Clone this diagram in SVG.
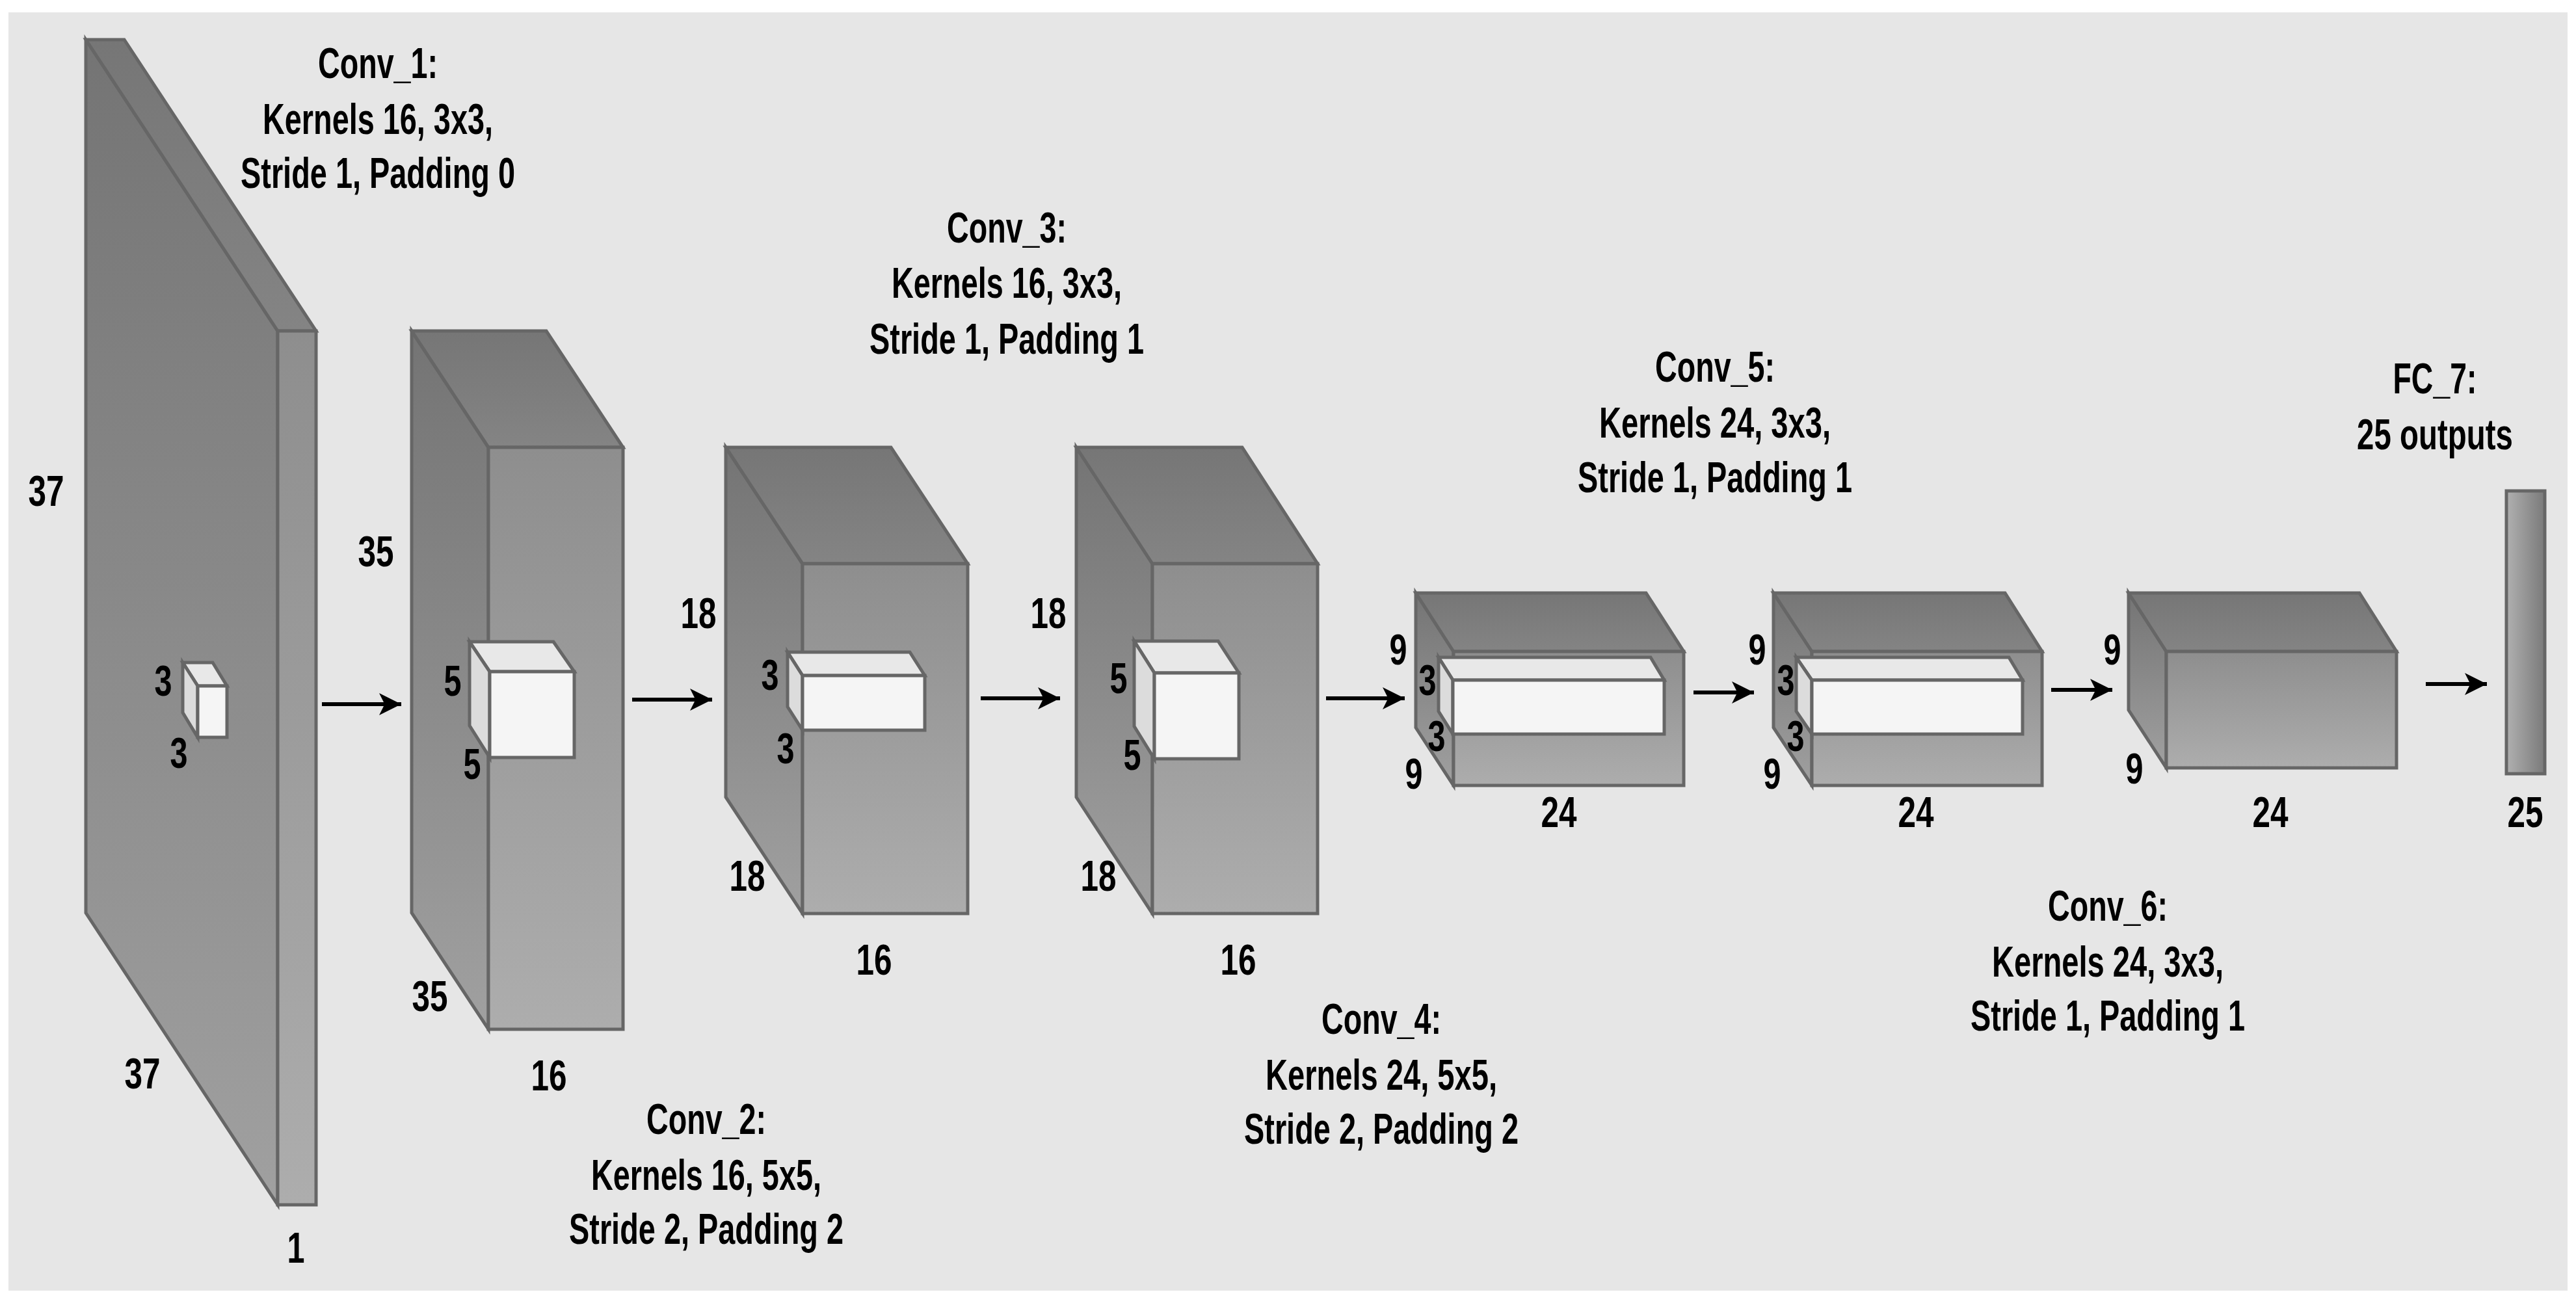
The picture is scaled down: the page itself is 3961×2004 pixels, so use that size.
<svg xmlns="http://www.w3.org/2000/svg" width="3961" height="2004" viewBox="0 0 3961 2004">
<defs>
<linearGradient id="gl" x1="0" y1="0" x2="0" y2="1"><stop offset="0" stop-color="#747474"/><stop offset="1" stop-color="#a0a0a0"/></linearGradient>
<linearGradient id="gf" x1="0" y1="0" x2="0" y2="1"><stop offset="0" stop-color="#8e8e8e"/><stop offset="1" stop-color="#adadad"/></linearGradient>
<linearGradient id="gt" x1="0" y1="0" x2="0" y2="1"><stop offset="0" stop-color="#767676"/><stop offset="1" stop-color="#848484"/></linearGradient>
<linearGradient id="gfc" x1="0" y1="0" x2="1" y2="0"><stop offset="0" stop-color="#b0b0b0"/><stop offset="1" stop-color="#7a7a7a"/></linearGradient>
<marker id="ah" viewBox="0 0 10 10" refX="10" refY="5" markerWidth="6" markerHeight="6" markerUnits="userSpaceOnUse" orient="auto">
<path d="M0,0 L10,5 L0,10 L3,5 Z" fill="#000"/></marker>
<marker id="arr" viewBox="0 0 20 20" refX="20" refY="10" markerWidth="34" markerHeight="34" markerUnits="userSpaceOnUse" orient="auto"><path d="M0,0 L20,10 L0,20 L5,10 Z" fill="#000"/></marker>
</defs>
<style>
.f{stroke:#666;stroke-width:5;stroke-linejoin:miter}
.l{fill:url(#gl)}.fr{fill:url(#gf)}.t{fill:url(#gt)}
.wt{fill:#e8e8e8}.wl{fill:#dcdcdc}.wf{fill:#f5f5f5}
text{font-family:"Liberation Sans Narrow","Liberation Sans",sans-serif;font-weight:bold;font-size:66px;fill:#000;text-anchor:middle}
.c{stroke:#000;stroke-width:6;fill:none}
</style>
<rect x="13" y="19" width="3935" height="1966" fill="#e6e6e6"/>

<g id="input">
<polygon class="f l" points="132,61 427,509 427,1853 132,1404"/>
<polygon class="f t" points="132,61 191,61 486,509 427,509"/>
<rect class="f fr" x="427" y="509" width="59" height="1344"/>
<polygon class="f wt" points="281,1019 327,1019 349,1055 304,1055"/>
<polygon class="f wl" points="281,1019 304,1055 304,1134 281,1096"/>
<rect class="f wf" x="304" y="1055" width="45" height="79"/>
<text x="71" y="778" textLength="55" lengthAdjust="spacingAndGlyphs">37</text>
<text x="251" y="1070" textLength="27" lengthAdjust="spacingAndGlyphs">3</text>
<text x="275" y="1181" textLength="27" lengthAdjust="spacingAndGlyphs">3</text>
<text x="219" y="1674" textLength="55" lengthAdjust="spacingAndGlyphs">37</text>
<text x="455" y="1942" textLength="27" lengthAdjust="spacingAndGlyphs">1</text>
</g>

<g id="conv1">
<polygon class="f l" points="633,509 751,688 751,1583 633,1404"/>
<polygon class="f t" points="633,509 840,509 958,688 751,688"/>
<rect class="f fr" x="751" y="688" width="207" height="895"/>
<polygon class="f wt" points="722,987 851,987 883,1033 753,1033"/>
<polygon class="f wl" points="722,987 753,1033 753,1165 722,1116"/>
<rect class="f wf" x="753" y="1033" width="130" height="132"/>
<text x="578" y="871" textLength="55" lengthAdjust="spacingAndGlyphs">35</text>
<text x="696" y="1070" textLength="27" lengthAdjust="spacingAndGlyphs">5</text>
<text x="726" y="1198" textLength="27" lengthAdjust="spacingAndGlyphs">5</text>
<text x="661" y="1555" textLength="55" lengthAdjust="spacingAndGlyphs">35</text>
<text x="844" y="1677" textLength="55" lengthAdjust="spacingAndGlyphs">16</text>
</g>

<g id="conv2">
<polygon class="f l" points="1116,688 1234,867 1234,1405 1116,1226"/>
<polygon class="f t" points="1116,688 1370,688 1488,867 1234,867"/>
<rect class="f fr" x="1234" y="867" width="254" height="538"/>
<polygon class="f wt" points="1211,1003 1399,1003 1422,1039 1234,1039"/>
<polygon class="f wl" points="1211,1003 1234,1039 1234,1123 1211,1087"/>
<rect class="f wf" x="1234" y="1039" width="188" height="84"/>
<text x="1074" y="966" textLength="55" lengthAdjust="spacingAndGlyphs">18</text>
<text x="1184" y="1061" textLength="27" lengthAdjust="spacingAndGlyphs">3</text>
<text x="1208" y="1174" textLength="27" lengthAdjust="spacingAndGlyphs">3</text>
<text x="1149" y="1370" textLength="55" lengthAdjust="spacingAndGlyphs">18</text>
<text x="1344" y="1499" textLength="55" lengthAdjust="spacingAndGlyphs">16</text>
</g>

<g id="conv3">
<polygon class="f l" points="1655,688 1772,867 1772,1405 1655,1226"/>
<polygon class="f t" points="1655,688 1910,688 2026,867 1772,867"/>
<rect class="f fr" x="1772" y="867" width="254" height="538"/>
<polygon class="f wt" points="1744,986 1873,986 1905,1035 1775,1035"/>
<polygon class="f wl" points="1744,986 1775,1035 1775,1167 1744,1117"/>
<rect class="f wf" x="1775" y="1035" width="130" height="132"/>
<text x="1612" y="966" textLength="55" lengthAdjust="spacingAndGlyphs">18</text>
<text x="1720" y="1066" textLength="27" lengthAdjust="spacingAndGlyphs">5</text>
<text x="1741" y="1184" textLength="27" lengthAdjust="spacingAndGlyphs">5</text>
<text x="1689" y="1370" textLength="55" lengthAdjust="spacingAndGlyphs">18</text>
<text x="1904" y="1499" textLength="55" lengthAdjust="spacingAndGlyphs">16</text>
</g>

<g id="conv4">
<polygon class="f l" points="2177,912 2235,1002 2235,1208 2177,1119"/>
<polygon class="f t" points="2177,912 2531,912 2589,1002 2235,1002"/>
<rect class="f fr" x="2235" y="1002" width="354" height="206"/>
<polygon class="f wt" points="2212,1011 2538,1011 2559,1046 2234,1046"/>
<polygon class="f wl" points="2212,1011 2234,1046 2234,1129 2212,1094"/>
<rect class="f wf" x="2234" y="1046" width="325" height="83"/>
<text x="2150" y="1022" textLength="27" lengthAdjust="spacingAndGlyphs">9</text>
<text x="2195" y="1069" textLength="27" lengthAdjust="spacingAndGlyphs">3</text>
<text x="2209" y="1155" textLength="27" lengthAdjust="spacingAndGlyphs">3</text>
<text x="2174" y="1213" textLength="27" lengthAdjust="spacingAndGlyphs">9</text>
<text x="2397" y="1272" textLength="55" lengthAdjust="spacingAndGlyphs">24</text>
</g>

<g id="conv5">
<polygon class="f l" points="2727,912 2786,1002 2786,1208 2727,1119"/>
<polygon class="f t" points="2727,912 3083,912 3140,1002 2786,1002"/>
<rect class="f fr" x="2786" y="1002" width="354" height="206"/>
<polygon class="f wt" points="2762,1011 3089,1011 3110,1046 2786,1046"/>
<polygon class="f wl" points="2762,1011 2786,1046 2786,1129 2762,1094"/>
<rect class="f wf" x="2786" y="1046" width="324" height="83"/>
<text x="2702" y="1022" textLength="27" lengthAdjust="spacingAndGlyphs">9</text>
<text x="2746" y="1069" textLength="27" lengthAdjust="spacingAndGlyphs">3</text>
<text x="2761" y="1155" textLength="27" lengthAdjust="spacingAndGlyphs">3</text>
<text x="2725" y="1213" textLength="27" lengthAdjust="spacingAndGlyphs">9</text>
<text x="2946" y="1272" textLength="55" lengthAdjust="spacingAndGlyphs">24</text>
</g>

<g id="conv6">
<polygon class="f l" points="3273,912 3331,1002 3331,1181 3273,1092"/>
<polygon class="f t" points="3273,912 3628,912 3685,1002 3331,1002"/>
<rect class="f fr" x="3331" y="1002" width="354" height="179"/>
<text x="3248" y="1022" textLength="27" lengthAdjust="spacingAndGlyphs">9</text>
<text x="3282" y="1205" textLength="27" lengthAdjust="spacingAndGlyphs">9</text>
<text x="3491" y="1272" textLength="55" lengthAdjust="spacingAndGlyphs">24</text>
</g>

<g id="fc7">
<rect x="3854" y="755" width="59" height="435" fill="url(#gfc)" stroke="#666" stroke-width="5"/>
<text x="3883" y="1272" textLength="55" lengthAdjust="spacingAndGlyphs">25</text>
</g>

<g id="labels">
<text x="581" y="120" textLength="184" lengthAdjust="spacingAndGlyphs">Conv_1:</text>
<text x="581" y="206" textLength="354" lengthAdjust="spacingAndGlyphs">Kernels 16, 3x3,</text>
<text x="581" y="289" textLength="422" lengthAdjust="spacingAndGlyphs">Stride 1, Padding 0</text>
<text x="1086" y="1744" textLength="184" lengthAdjust="spacingAndGlyphs">Conv_2:</text>
<text x="1086" y="1830" textLength="354" lengthAdjust="spacingAndGlyphs">Kernels 16, 5x5,</text>
<text x="1086" y="1913" textLength="422" lengthAdjust="spacingAndGlyphs">Stride 2, Padding 2</text>
<text x="1548" y="373" textLength="184" lengthAdjust="spacingAndGlyphs">Conv_3:</text>
<text x="1548" y="458" textLength="354" lengthAdjust="spacingAndGlyphs">Kernels 16, 3x3,</text>
<text x="1548" y="544" textLength="422" lengthAdjust="spacingAndGlyphs">Stride 1, Padding 1</text>
<text x="2124" y="1590" textLength="184" lengthAdjust="spacingAndGlyphs">Conv_4:</text>
<text x="2124" y="1676" textLength="356" lengthAdjust="spacingAndGlyphs">Kernels 24, 5x5,</text>
<text x="2124" y="1759" textLength="422" lengthAdjust="spacingAndGlyphs">Stride 2, Padding 2</text>
<text x="2637" y="587" textLength="184" lengthAdjust="spacingAndGlyphs">Conv_5:</text>
<text x="2637" y="673" textLength="356" lengthAdjust="spacingAndGlyphs">Kernels 24, 3x3,</text>
<text x="2637" y="757" textLength="422" lengthAdjust="spacingAndGlyphs">Stride 1, Padding 1</text>
<text x="3241" y="1416" textLength="184" lengthAdjust="spacingAndGlyphs">Conv_6:</text>
<text x="3241" y="1502" textLength="356" lengthAdjust="spacingAndGlyphs">Kernels 24, 3x3,</text>
<text x="3241" y="1585" textLength="422" lengthAdjust="spacingAndGlyphs">Stride 1, Padding 1</text>
<text x="3744" y="605" textLength="129" lengthAdjust="spacingAndGlyphs">FC_7:</text>
<text x="3744" y="691" textLength="240" lengthAdjust="spacingAndGlyphs">25 outputs</text>
</g>

<g id="connectors">
<line class="c" x1="495" y1="1083" x2="617" y2="1083" marker-end="url(#arr)"/>
<line class="c" x1="972" y1="1076" x2="1095" y2="1076" marker-end="url(#arr)"/>
<line class="c" x1="1508" y1="1074" x2="1630" y2="1074" marker-end="url(#arr)"/>
<line class="c" x1="2039" y1="1074" x2="2160" y2="1074" marker-end="url(#arr)"/>
<line class="c" x1="2604" y1="1065" x2="2697" y2="1065" marker-end="url(#arr)"/>
<line class="c" x1="3154" y1="1061" x2="3248" y2="1061" marker-end="url(#arr)"/>
<line class="c" x1="3730" y1="1052" x2="3824" y2="1052" marker-end="url(#arr)"/>
</g>
</svg>
